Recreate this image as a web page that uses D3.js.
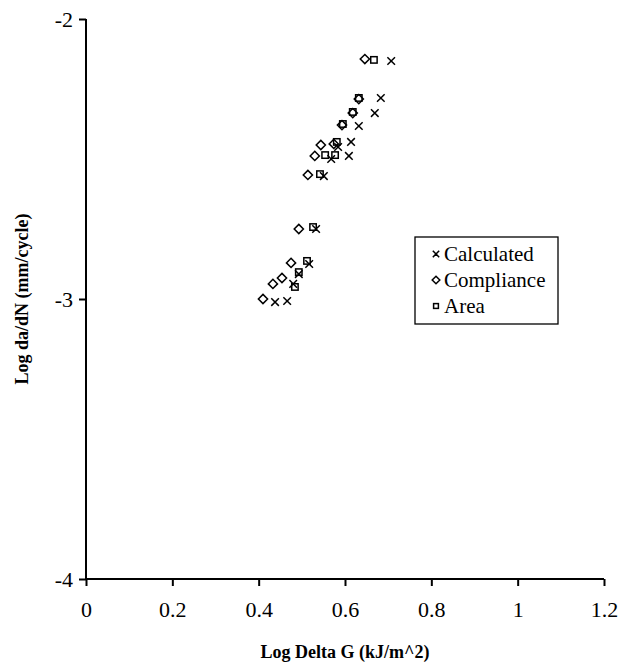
<!DOCTYPE html>
<html>
<head>
<meta charset="utf-8">
<script src="https://cdn.jsdelivr.net/npm/d3@7"></script>
<style>
  html, body { margin: 0; padding: 0; background: #fff; }
  svg { display: block; }
  text { font-family: "Liberation Serif", "Times New Roman", serif; fill: #000; }
</style>
</head>
<body>
<svg id="chart" width="618" height="665"></svg>
<script>
// Calculated series: [log delta G, log da/dN]
const calculated = [
  [0.438, -3.011], [0.466, -3.007], [0.480, -2.946], [0.493, -2.911],
  [0.517, -2.875], [0.533, -2.750], [0.551, -2.561], [0.568, -2.500],
  [0.584, -2.457], [0.609, -2.489], [0.614, -2.439], [0.632, -2.382],
  [0.669, -2.336], [0.683, -2.282], [0.707, -2.150]
];
// Compliance series
const compliance = [
  [0.410, -3.000], [0.433, -2.946], [0.454, -2.925], [0.475, -2.871],
  [0.493, -2.750], [0.514, -2.557], [0.530, -2.489], [0.544, -2.450],
  [0.574, -2.446], [0.593, -2.379], [0.618, -2.336], [0.632, -2.286],
  [0.646, -2.143]
];
// Area series
const area = [
  [0.484, -2.957], [0.493, -2.904], [0.512, -2.864], [0.526, -2.743],
  [0.542, -2.554], [0.554, -2.486], [0.577, -2.486], [0.581, -2.439],
  [0.595, -2.375], [0.618, -2.332], [0.632, -2.282], [0.667, -2.146]
];
const xTicks = [0, 0.2, 0.4, 0.6, 0.8, 1, 1.2];
const yTicks = [-2, -3, -4];
const seriesNames = ["Calculated", "Compliance", "Area"];

const svg = d3.select("#chart");
const x = d3.scaleLinear().domain([0, 1.2]).range([86, 604]);
const y = d3.scaleLinear().domain([-4, -2]).range([579, 19]);

// Axes
const xAxis = svg.append("g")
  .attr("transform", `translate(0,${y(-4)})`)
  .call(d3.axisBottom(x).tickValues(xTicks).tickSize(7).tickPadding(15)
    .tickFormat(d => String(d)));
const yAxis = svg.append("g")
  .attr("transform", `translate(${x(0)},0)`)
  .call(d3.axisLeft(y).tickValues(yTicks).tickSize(7).tickPadding(6)
    .tickFormat(d => String(d)));
[xAxis, yAxis].forEach(g => {
  g.select(".domain").attr("stroke", "#000").attr("stroke-width", 2);
  g.selectAll(".tick line").attr("stroke", "#000").attr("stroke-width", 2);
  g.selectAll(".tick text").attr("font-size", 22)
    .attr("font-family", "'Liberation Serif', 'Times New Roman', serif").attr("fill", "#000");
});
xAxis.select(".domain").attr("d", `M${x(0)},0H${x(1.2)}`);
yAxis.select(".domain").attr("d", `M0,${y(-2)}V${y(-4)}`);

// Axis titles
svg.append("text")
  .attr("x", 345).attr("y", 658)
  .attr("text-anchor", "middle").attr("font-size", 18).attr("font-weight", "bold")
  .text("Log Delta G (kJ/m^2)");
svg.append("text")
  .attr("transform", `translate(28,${y(-3)}) rotate(-90)`)
  .attr("text-anchor", "middle").attr("font-size", 18).attr("font-weight", "bold")
  .text("Log da/dN (mm/cycle)");

// Marker shapes
const markers = {
  Calculated: (g, s) => g.append("path").attr("d", `M${-s},${-s}L${s},${s}M${-s},${s}L${s},${-s}`),
  Compliance: (g, s) => g.append("path").attr("d", `M0,${-s - 0.8}L${s + 0.8},0L0,${s + 0.8}L${-s - 0.8},0Z`),
  Area: (g, s) => g.append("rect").attr("x", -s + 0.6).attr("y", -s + 0.6)
    .attr("width", 2 * s - 1.2).attr("height", 2 * s - 1.2)
};
const seriesData = { Calculated: calculated, Compliance: compliance, Area: area };

function drawSeries(name) {
  const g = svg.append("g").attr("class", "series-" + name);
  g.selectAll("g.pt").data(seriesData[name]).join("g")
    .attr("class", "pt")
    .attr("transform", d => `translate(${x(d[0])},${y(d[1])})`)
    .each(function () {
      markers[name](d3.select(this), 3.8)
        .attr("fill", "none").attr("stroke", "#000").attr("stroke-width", 1.5);
    });
}
// Draw order: compliance, area, then calculated on top
["Compliance", "Area", "Calculated"].forEach(drawSeries);

// Legend
const legend = svg.append("g").attr("transform", "translate(415,237)");
legend.append("rect").attr("x", 0).attr("y", 0).attr("width", 143).attr("height", 87)
  .attr("fill", "#fff").attr("stroke", "#000").attr("stroke-width", 1.3);
seriesNames.forEach((name, i) => {
  const row = legend.append("g").attr("transform", `translate(21,${17 + i * 26})`);
  markers[name](row, name === "Calculated" ? 3.2 : 3)
    .attr("fill", "none").attr("stroke", "#000").attr("stroke-width", 1.5);
  row.append("text").attr("x", 8).attr("y", 7).attr("font-size", 21).text(name);
});
</script>
</body>
</html>
